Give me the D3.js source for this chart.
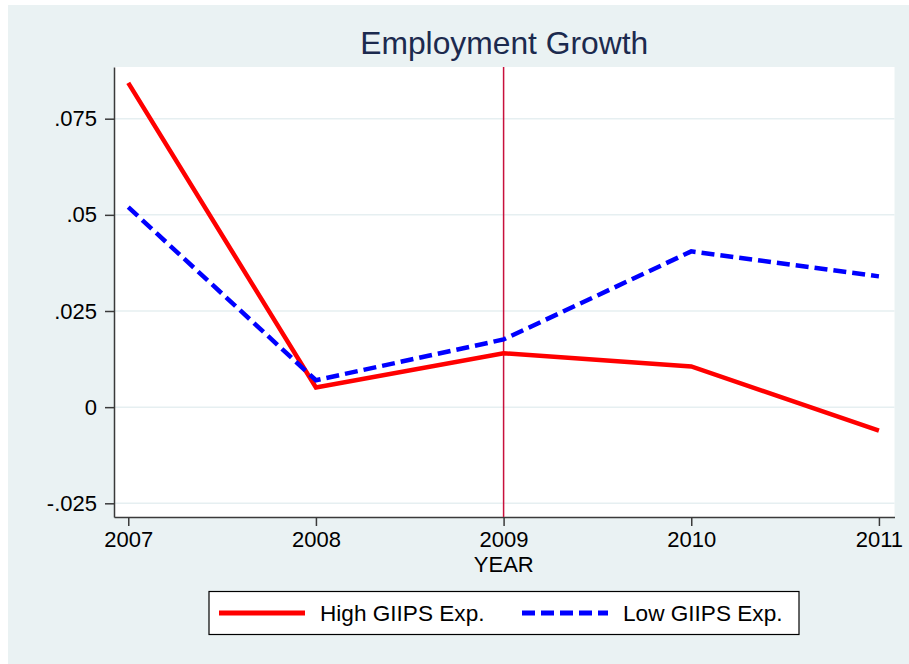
<!DOCTYPE html>
<html>
<head>
<meta charset="utf-8">
<script src="https://cdn.jsdelivr.net/npm/d3@7"></script>
<style>
  body { margin: 0; background: #fff; }
  svg text { font-family: "Liberation Sans", Arial, sans-serif; }
</style>
</head>
<body>
<div id="chart"></div>
<script>
const years = [2007, 2008, 2009, 2010, 2011];
const highExp = [0.0843, 0.0051, 0.0140, 0.0106, -0.0061];
const lowExp = [0.0520, 0.0070, 0.0176, 0.0405, 0.0340];
const yTicks = [-0.025, 0, 0.025, 0.05, 0.075];
const yTickLabels = ['-.025', '0', '.025', '.05', '.075'];
const markerYear = 2009;

const series = [
    { name: 'High GIIPS Exp.', values: highExp, color: '#ff0000', dash: null },
    { name: 'Low GIIPS Exp.', values: lowExp, color: '#0000ff', dash: '13,6' }
];

const W = 909, H = 664,
    plot = { left: 114, right: 894.5, top: 67, bottom: 517 },
    axisColor = '#3a3a3a',
    fontSize = 22;

const svg = d3.select('#chart')
    .append('svg')
        .attr('width', W)
        .attr('height', H);

// outer background
svg.append('rect')
    .attr('x', 8)
    .attr('y', 5)
    .attr('width', W - 8)
    .attr('height', H - 5)
    .attr('fill', '#eaf2f3');

// plot region
svg.append('rect')
    .attr('x', plot.left)
    .attr('y', plot.top)
    .attr('width', plot.right - plot.left)
    .attr('height', plot.bottom - plot.top)
    .attr('fill', '#ffffff');

const x = d3.scaleLinear()
    .domain([2006.924, 2011.083])
    .range([plot.left, plot.right]);

const y = d3.scaleLinear()
    .domain([-0.02856, 0.08844])
    .range([plot.bottom, plot.top]);

// grid
svg.append('g')
    .selectAll('line')
    .data(yTicks)
    .enter()
    .append('line')
        .attr('x1', plot.left)
        .attr('x2', plot.right)
        .attr('y1', d => y(d))
        .attr('y2', d => y(d))
        .attr('stroke', '#e6eff1')
        .attr('stroke-width', 1.5);

// title
svg.append('text')
    .attr('x', (plot.left + plot.right) / 2)
    .attr('y', 54)
    .attr('text-anchor', 'middle')
    .attr('font-size', 31.8)
    .attr('fill', '#1c2a4e')
    .text('Employment Growth');

// y axis
svg.append('g')
    .attr('transform', `translate(${plot.left}, 0)`)
    .call(d3.axisLeft(y)
        .tickValues(yTicks)
        .tickFormat((d, i) => yTickLabels[i])
        .tickSize(9)
        .tickSizeOuter(0)
        .tickPadding(8))
    .call(g => g.selectAll('text').attr('font-size', fontSize).attr('fill', '#000').attr('font-family', null))
    .call(g => g.selectAll('line, path').attr('stroke', axisColor).attr('stroke-width', 1.5));

// x axis
svg.append('g')
    .attr('transform', `translate(0, ${plot.bottom})`)
    .call(d3.axisBottom(x)
        .tickValues(years)
        .tickFormat(d3.format('d'))
        .tickSize(9)
        .tickSizeOuter(0)
        .tickPadding(5.5))
    .call(g => g.selectAll('text').attr('font-size', fontSize).attr('fill', '#000').attr('font-family', null))
    .call(g => g.selectAll('line, path').attr('stroke', axisColor).attr('stroke-width', 1.5));

svg.append('text')
    .attr('x', (plot.left + plot.right) / 2 - 0.5)
    .attr('y', 571.5)
    .attr('text-anchor', 'middle')
    .attr('font-size', fontSize)
    .text('YEAR');

// vertical marker line
svg.append('line')
    .attr('x1', x(markerYear))
    .attr('x2', x(markerYear))
    .attr('y1', plot.top)
    .attr('y2', plot.bottom)
    .attr('stroke', '#c8103c')
    .attr('stroke-width', 1.5);

// lines
const line = d3.line()
    .x((d, i) => x(years[i]))
    .y(d => y(d));

series.forEach(s => {
    svg.append('path')
        .datum(s.values)
        .attr('fill', 'none')
        .attr('stroke', s.color)
        .attr('stroke-width', 4.5)
        .attr('stroke-dasharray', s.dash)
        .attr('d', line);
});

// legend
const legend = svg.append('g').attr('transform', 'translate(209, 591.5)');

legend.append('rect')
    .attr('width', 590)
    .attr('height', 43)
    .attr('fill', '#fff')
    .attr('stroke', '#000')
    .attr('stroke-width', 1.2);

const item = legend.selectAll('g.item')
    .data(series)
    .enter()
    .append('g')
        .attr('transform', (d, i) => `translate(${10 + i * 303}, 0)`);

item.append('line')
    .attr('x1', 0)
    .attr('x2', 86)
    .attr('y1', 21.5)
    .attr('y2', 21.5)
    .attr('stroke', d => d.color)
    .attr('stroke-width', 5)
    .attr('stroke-dasharray', d => d.dash);

item.append('text')
    .attr('x', 101)
    .attr('y', 29.5)
    .attr('font-size', 22.6)
    .text(d => d.name);
</script>
</body>
</html>
